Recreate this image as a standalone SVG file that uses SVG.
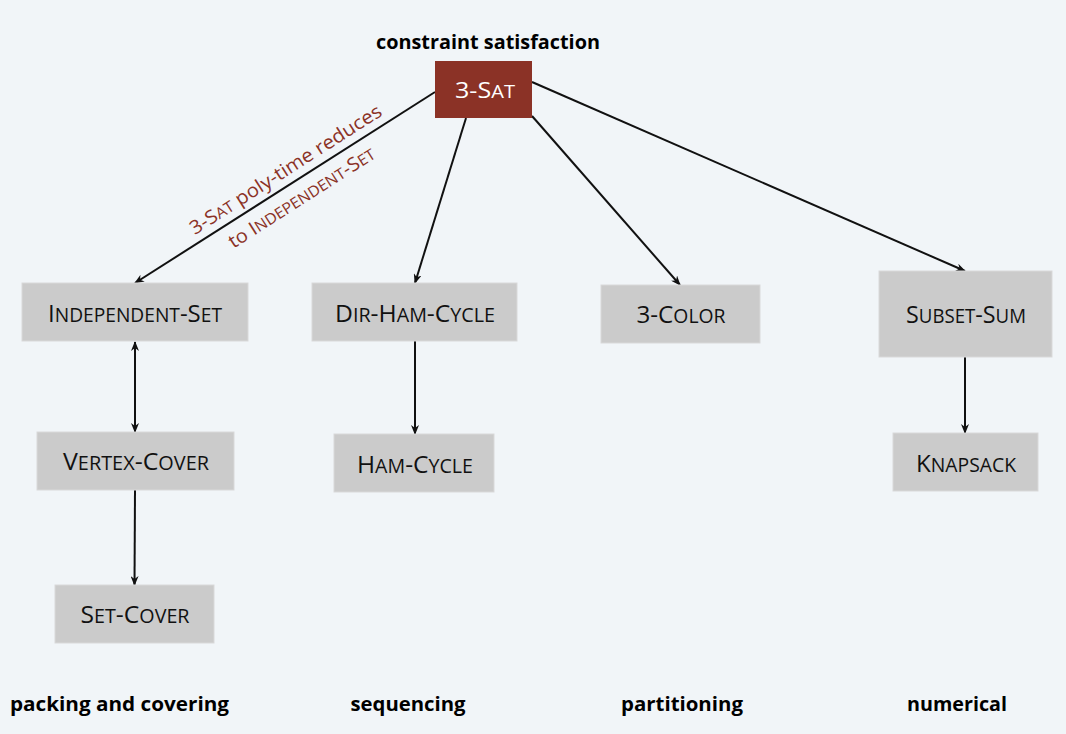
<svg xmlns="http://www.w3.org/2000/svg" width="1066" height="734" viewBox="0 0 1066 734">
<defs>
<style>
.bg{fill:#f1f5f8}
.box{fill:#cbcbcb;stroke:#d9d9d9;stroke-width:1}
.lbl{font-family:"Open Sans","Noto Sans",sans-serif;font-size:24px;fill:#111;text-anchor:middle}
.s{font-size:0.8em}
.cat{font-family:"Open Sans","Noto Sans",sans-serif;font-size:19px;font-weight:700;fill:#000;text-anchor:middle}
.edge{stroke:#111;stroke-width:2;fill:none}
.note{font-family:"Open Sans","Noto Sans",sans-serif;font-size:19px;fill:#8b3226;text-anchor:middle}
</style>
<marker id="ah" markerWidth="10" markerHeight="8" refX="9" refY="4" orient="auto-start-reverse" markerUnits="userSpaceOnUse">
<path d="M0,0 L10,4 L0,8 L3,4 Z" fill="#111"/>
</marker>
</defs>
<rect class="bg" x="0" y="0" width="1066" height="734"/>
<g id="connectors">
<line class="edge" x1="435" y1="92" x2="135" y2="283" marker-end="url(#ah)"/>
<line class="edge" x1="466" y1="118" x2="415" y2="283" marker-end="url(#ah)"/>
<line class="edge" x1="532" y1="116" x2="680" y2="285" marker-end="url(#ah)"/>
<line class="edge" x1="532" y1="82" x2="965" y2="271" marker-end="url(#ah)"/>
<line class="edge" x1="135" y1="342" x2="135" y2="432" marker-start="url(#ah)" marker-end="url(#ah)"/>
<line class="edge" x1="135" y1="490" x2="134.5" y2="585" marker-end="url(#ah)"/>
<line class="edge" x1="415" y1="341" x2="415" y2="434" marker-end="url(#ah)"/>
<line class="edge" x1="965" y1="357" x2="965" y2="433" marker-end="url(#ah)"/>
</g>
<g id="label-reduction">
<text class="note" transform="translate(289,175) rotate(-32.6)" textLength="224" lengthAdjust="spacingAndGlyphs">3-S<tspan class="s">AT</tspan> poly-time reduces</text>
<text class="note" transform="translate(305,203) rotate(-32.6)" textLength="170" lengthAdjust="spacingAndGlyphs">to I<tspan class="s">NDEPENDENT</tspan>-S<tspan class="s">ET</tspan></text>
</g>
<g id="n-constraint">
<text class="cat" x="488" y="49" textLength="224" lengthAdjust="spacingAndGlyphs">constraint satisfaction</text>
</g>
<g id="n-3sat">
<rect x="435" y="61" width="97" height="57" fill="#8b3226"/>
<text class="lbl" x="485" y="98" style="fill:#fff;font-size:22px" textLength="60" lengthAdjust="spacingAndGlyphs">3-S<tspan class="s">AT</tspan></text>
</g>
<g id="n-independent-set">
<rect class="box" x="22" y="283" width="226" height="58"/>
<text class="lbl" x="135" y="322" textLength="174" lengthAdjust="spacingAndGlyphs">I<tspan class="s">NDEPENDENT</tspan>-S<tspan class="s">ET</tspan></text>
</g>
<g id="n-dir-ham-cycle">
<rect class="box" x="312" y="283" width="205" height="58"/>
<text class="lbl" x="415" y="322" textLength="160" lengthAdjust="spacingAndGlyphs">D<tspan class="s">IR</tspan>-H<tspan class="s">AM</tspan>-C<tspan class="s">YCLE</tspan></text>
</g>
<g id="n-3-color">
<rect class="box" x="601" y="285" width="159" height="58"/>
<text class="lbl" x="681" y="323" textLength="89" lengthAdjust="spacingAndGlyphs">3-C<tspan class="s">OLOR</tspan></text>
</g>
<g id="n-subset-sum">
<rect class="box" x="879" y="271" width="173" height="86"/>
<text class="lbl" x="966" y="323" textLength="120" lengthAdjust="spacingAndGlyphs">S<tspan class="s">UBSET</tspan>-S<tspan class="s">UM</tspan></text>
</g>
<g id="n-vertex-cover">
<rect class="box" x="37" y="432" width="197" height="58"/>
<text class="lbl" x="136" y="470" textLength="146" lengthAdjust="spacingAndGlyphs">V<tspan class="s">ERTEX</tspan>-C<tspan class="s">OVER</tspan></text>
</g>
<g id="n-ham-cycle">
<rect class="box" x="334" y="434" width="160" height="58"/>
<text class="lbl" x="415" y="473" textLength="116" lengthAdjust="spacingAndGlyphs">H<tspan class="s">AM</tspan>-C<tspan class="s">YCLE</tspan></text>
</g>
<g id="n-set-cover">
<rect class="box" x="55" y="585" width="159" height="58"/>
<text class="lbl" x="135" y="623" textLength="109" lengthAdjust="spacingAndGlyphs">S<tspan class="s">ET</tspan>-C<tspan class="s">OVER</tspan></text>
</g>
<g id="n-knapsack">
<rect class="box" x="893" y="433" width="145" height="58"/>
<text class="lbl" x="966" y="472" textLength="100" lengthAdjust="spacingAndGlyphs">K<tspan class="s">NAPSACK</tspan></text>
</g>
<g id="categories">
<text class="cat" x="119.5" y="711" textLength="219" lengthAdjust="spacingAndGlyphs">packing and covering</text>
<text class="cat" x="408" y="711" textLength="115" lengthAdjust="spacingAndGlyphs">sequencing</text>
<text class="cat" x="682" y="711" textLength="122" lengthAdjust="spacingAndGlyphs">partitioning</text>
<text class="cat" x="957" y="711" textLength="100" lengthAdjust="spacingAndGlyphs">numerical</text>
</g>
</svg>
